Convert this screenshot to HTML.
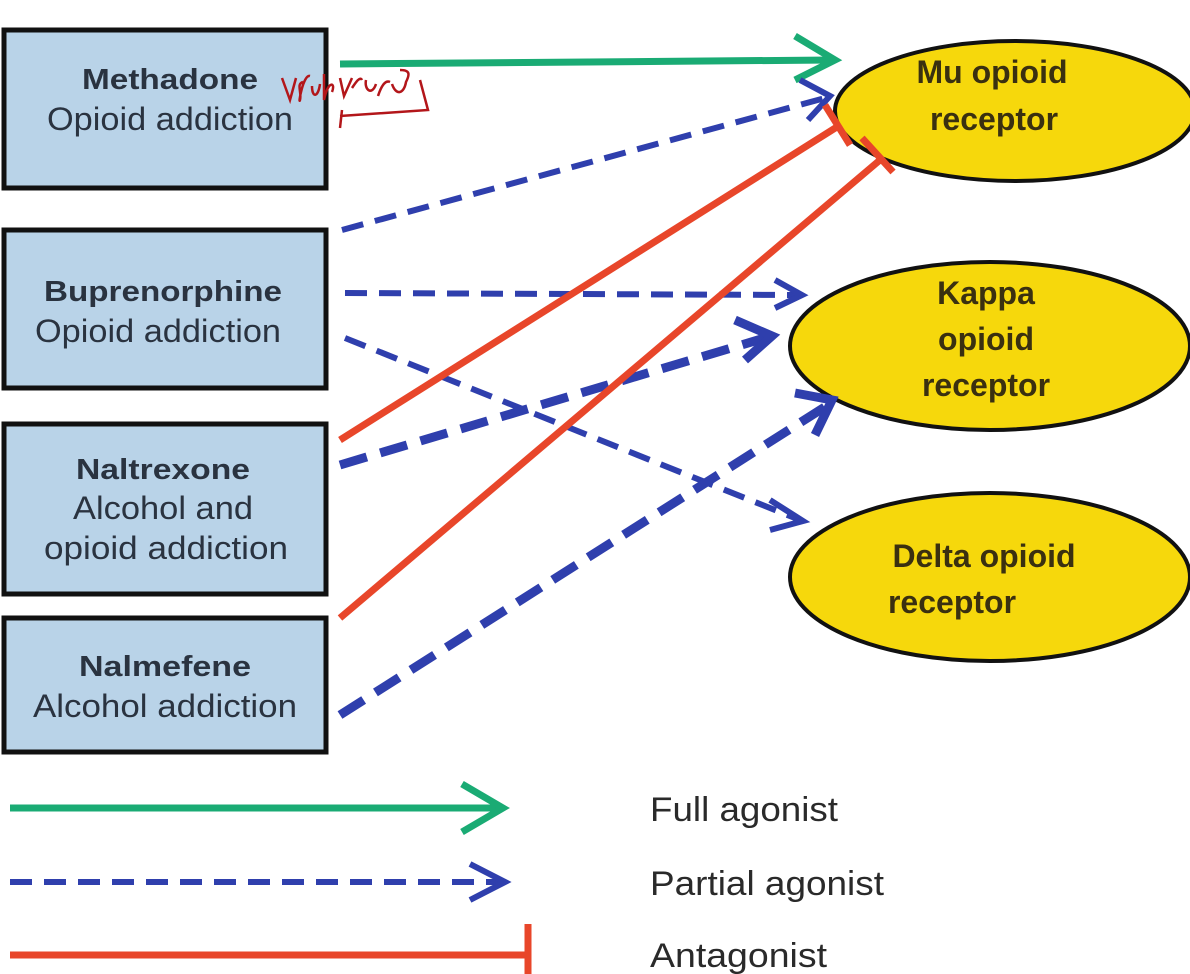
<!DOCTYPE html>
<html><head><style>
body{margin:0;background:#fff;}
svg{display:block;font-family:"Liberation Sans",Arial,sans-serif;}
</style></head><body>
<svg width="1190" height="974" viewBox="0 0 1190 974" xmlns="http://www.w3.org/2000/svg">
<g stroke="#111" stroke-width="5" fill="#b9d3e8">
<rect x="4" y="30" width="322" height="158"/>
<rect x="4" y="230" width="322" height="158"/>
<rect x="4" y="424" width="322" height="170"/>
<rect x="4" y="618" width="322" height="134"/>
</g>
<g fill="#2a3340" text-anchor="middle" lengthAdjust="spacingAndGlyphs">
<text x="170" y="89" font-size="29" font-weight="bold" textLength="176" lengthAdjust="spacingAndGlyphs">Methadone</text>
<text x="170" y="130" font-size="32" textLength="246" lengthAdjust="spacingAndGlyphs">Opioid addiction</text>
<text x="163" y="301" font-size="29" font-weight="bold" textLength="238" lengthAdjust="spacingAndGlyphs">Buprenorphine</text>
<text x="158" y="342" font-size="32" textLength="246" lengthAdjust="spacingAndGlyphs">Opioid addiction</text>
<text x="163" y="479" font-size="29" font-weight="bold" textLength="174" lengthAdjust="spacingAndGlyphs">Naltrexone</text>
<text x="163" y="519" font-size="32" textLength="180" lengthAdjust="spacingAndGlyphs">Alcohol and</text>
<text x="166" y="559" font-size="32" textLength="244" lengthAdjust="spacingAndGlyphs">opioid addiction</text>
<text x="165" y="676" font-size="29" font-weight="bold" textLength="172" lengthAdjust="spacingAndGlyphs">Nalmefene</text>
<text x="165" y="717" font-size="32" textLength="264" lengthAdjust="spacingAndGlyphs">Alcohol addiction</text>
</g>
<g stroke="#111" stroke-width="4" fill="#f6d80c">
<ellipse cx="1015" cy="111" rx="180" ry="70"/>
<ellipse cx="990" cy="346" rx="200" ry="84"/>
<ellipse cx="990" cy="577" rx="200" ry="84"/>
</g>
<g fill="#3a3010" font-size="32" font-weight="bold" text-anchor="middle">
<text x="992" y="83">Mu opioid</text>
<text x="994" y="130">receptor</text>
<text x="986" y="304">Kappa</text>
<text x="986" y="350">opioid</text>
<text x="986" y="396">receptor</text>
<text x="984" y="567">Delta opioid</text>
<text x="952" y="613">receptor</text>
</g>
<line x1="340" y1="64" x2="832" y2="60" stroke="#1aab74" stroke-width="7"/>
<path d="M795,36 L835,60 L795,80" fill="none" stroke="#1aab74" stroke-width="7"/>
<g stroke="#2f3fad" fill="none" stroke-width="6" stroke-dasharray="22,12">
<line x1="342" y1="230" x2="825" y2="98"/>
<line x1="345" y1="293" x2="800" y2="295"/>
<line x1="345" y1="338" x2="800" y2="520"/>
</g>
<g stroke="#2f3fad" fill="none" stroke-width="9" stroke-dasharray="28,14">
<line x1="340" y1="465" x2="768" y2="337"/>
<line x1="340" y1="715" x2="828" y2="405"/>
</g>
<g stroke="#2f3fad" fill="none" stroke-width="6">
<path d="M800,80 L830,96 L808,120"/>
<path d="M775,280 L802,295 L775,308"/>
<path d="M770,500 L803,521 L770,530"/>
</g>
<g stroke="#2f3fad" fill="none" stroke-width="9">
<path d="M735,320 L772,336 L745,360"/>
<path d="M795,393 L832,400 L815,435"/>
</g>
<g stroke="#e8462a" stroke-width="7" fill="none">
<line x1="340" y1="440" x2="840" y2="125"/>
<line x1="340" y1="618" x2="880" y2="160"/>
<line x1="825" y1="105" x2="850" y2="145"/>
<line x1="862" y1="138" x2="893" y2="172"/>
</g>
<g stroke="#b3161a" stroke-width="2.5" fill="none">
<path d="M282,78 L290,100 L296,78 M303,82 C296,84 302,92 300,100 C298,106 303,74 310,76 M312,86 C312,98 318,98 320,84 M324,74 L324,100 C328,80 336,82 332,92 M340,78 L344,96 L352,78 M352,88 C356,82 360,76 362,80 M366,80 C364,90 372,96 376,84 M378,96 C382,84 386,80 390,82 M392,84 C396,96 404,94 406,82 C410,74 410,70 400,70 M420,80 L428,110 L340,116 M342,110 L340,128"/>
</g>
<line x1="10" y1="808" x2="500" y2="808" stroke="#1aab74" stroke-width="7"/>
<path d="M462,784 L503,808 L462,832" fill="none" stroke="#1aab74" stroke-width="7"/>
<line x1="10" y1="882" x2="500" y2="882" stroke="#2f3fad" stroke-width="6" stroke-dasharray="22,12"/>
<path d="M470,864 L505,882 L470,900" fill="none" stroke="#2f3fad" stroke-width="6"/>
<line x1="10" y1="955" x2="527" y2="955" stroke="#e8462a" stroke-width="7"/>
<line x1="528" y1="924" x2="528" y2="974" stroke="#e8462a" stroke-width="7"/>
<g fill="#2a2a2a" font-size="34">
<text x="650" y="821" textLength="188" lengthAdjust="spacingAndGlyphs">Full agonist</text>
<text x="650" y="895" textLength="234" lengthAdjust="spacingAndGlyphs">Partial agonist</text>
<text x="650" y="967" textLength="177" lengthAdjust="spacingAndGlyphs">Antagonist</text>
</g>
</svg>
</body></html>
